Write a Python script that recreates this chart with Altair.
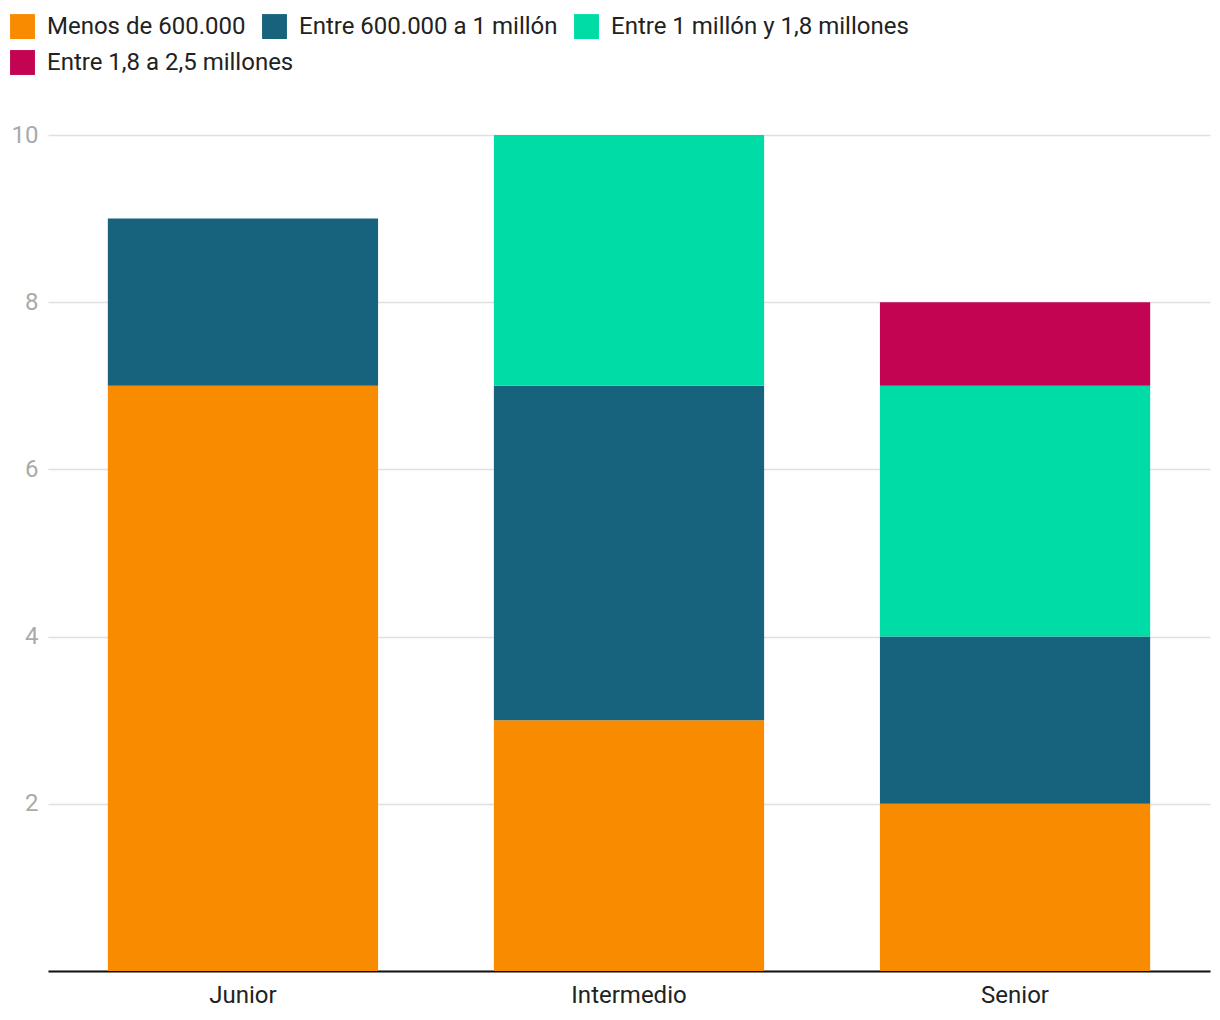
import altair as alt
import pandas as pd

categories = ["Junior", "Intermedio", "Senior"]
series = ["Menos de 600.000", "Entre 600.000 a 1 millón", "Entre 1 millón y 1,8 millones", "Entre 1,8 a 2,5 millones"]
colors = ["#F98B00", "#17627C", "#00DCA6", "#C30452"]
menos_600 = [7, 3, 2]
entre_600_1m = [2, 4, 2]
entre_1m_18 = [0, 3, 3]
entre_18_25 = [0, 0, 1]

values = [menos_600, entre_600_1m, entre_1m_18, entre_18_25]
rows = []
for si, (s, vals) in enumerate(zip(series, values)):
    for c, v in zip(categories, vals):
        if v:
            rows.append({"cat": c, "serie": s, "valor": v, "orden": si})
df = pd.DataFrame(rows)

FONT = "Roboto"
legend_common = dict(orient="none", direction="horizontal", symbolType="square",
                     symbolSize=620, symbolStrokeWidth=0, symbolOpacity=1,
                     labelFontSize=24, labelFont=FONT, labelColor="#222222",
                     labelLimit=600, labelOffset=12, columnPadding=16)

x_enc = alt.X("cat:N", sort=categories, title=None,
              scale=alt.Scale(paddingInner=0.3, paddingOuter=0.155),
              axis=alt.Axis(labelAngle=0, labelFontSize=24, labelColor="#222222",
                            labelFont=FONT, ticks=False, domainColor="#111111",
                            domainWidth=2, labelPadding=12))
y_enc = alt.Y("valor:Q", stack="zero", title=None,
              scale=alt.Scale(domain=[0, 10], nice=False),
              axis=alt.Axis(values=[0, 2, 4, 6, 8, 10], format="d", labelFontSize=24,
                            labelColor="#aaaaaa", labelFont=FONT, ticks=False, domain=False,
                            gridColor="#e0e0e0", gridWidth=1.5, labelPadding=10,
                            labelExpr="datum.value == 0 ? '' : datum.label"))

bars = alt.Chart(df).mark_bar().encode(
    x=x_enc,
    y=y_enc,
    color=alt.Color("serie:N", scale=alt.Scale(domain=series, range=colors), title=None,
                    legend=alt.Legend(values=series[:3], legendX=-38, legendY=-121,
                                      **legend_common)),
    order=alt.Order("orden:Q", sort="ascending"),
)

extra = alt.Chart(df).transform_filter(
    alt.datum.serie == series[3]
).mark_bar(opacity=0).encode(
    x=alt.X("cat:N", sort=categories),
    y=alt.Y("valor:Q", stack=None),
    fill=alt.Fill("serie:N", scale=alt.Scale(domain=series[3:], range=colors[3:]), title=None,
                  legend=alt.Legend(legendX=-38, legendY=-85, **legend_common)),
)

chart = alt.layer(bars, extra).resolve_scale(
    fill="independent"
).properties(
    width=1162, height=836,
    autosize=alt.AutoSizeParams(type="none"),
    padding={"left": 40, "top": 127, "right": 2, "bottom": 40},
).configure_view(stroke=None)

chart.save("out.html", embed_options={"renderer": "svg", "actions": False})
